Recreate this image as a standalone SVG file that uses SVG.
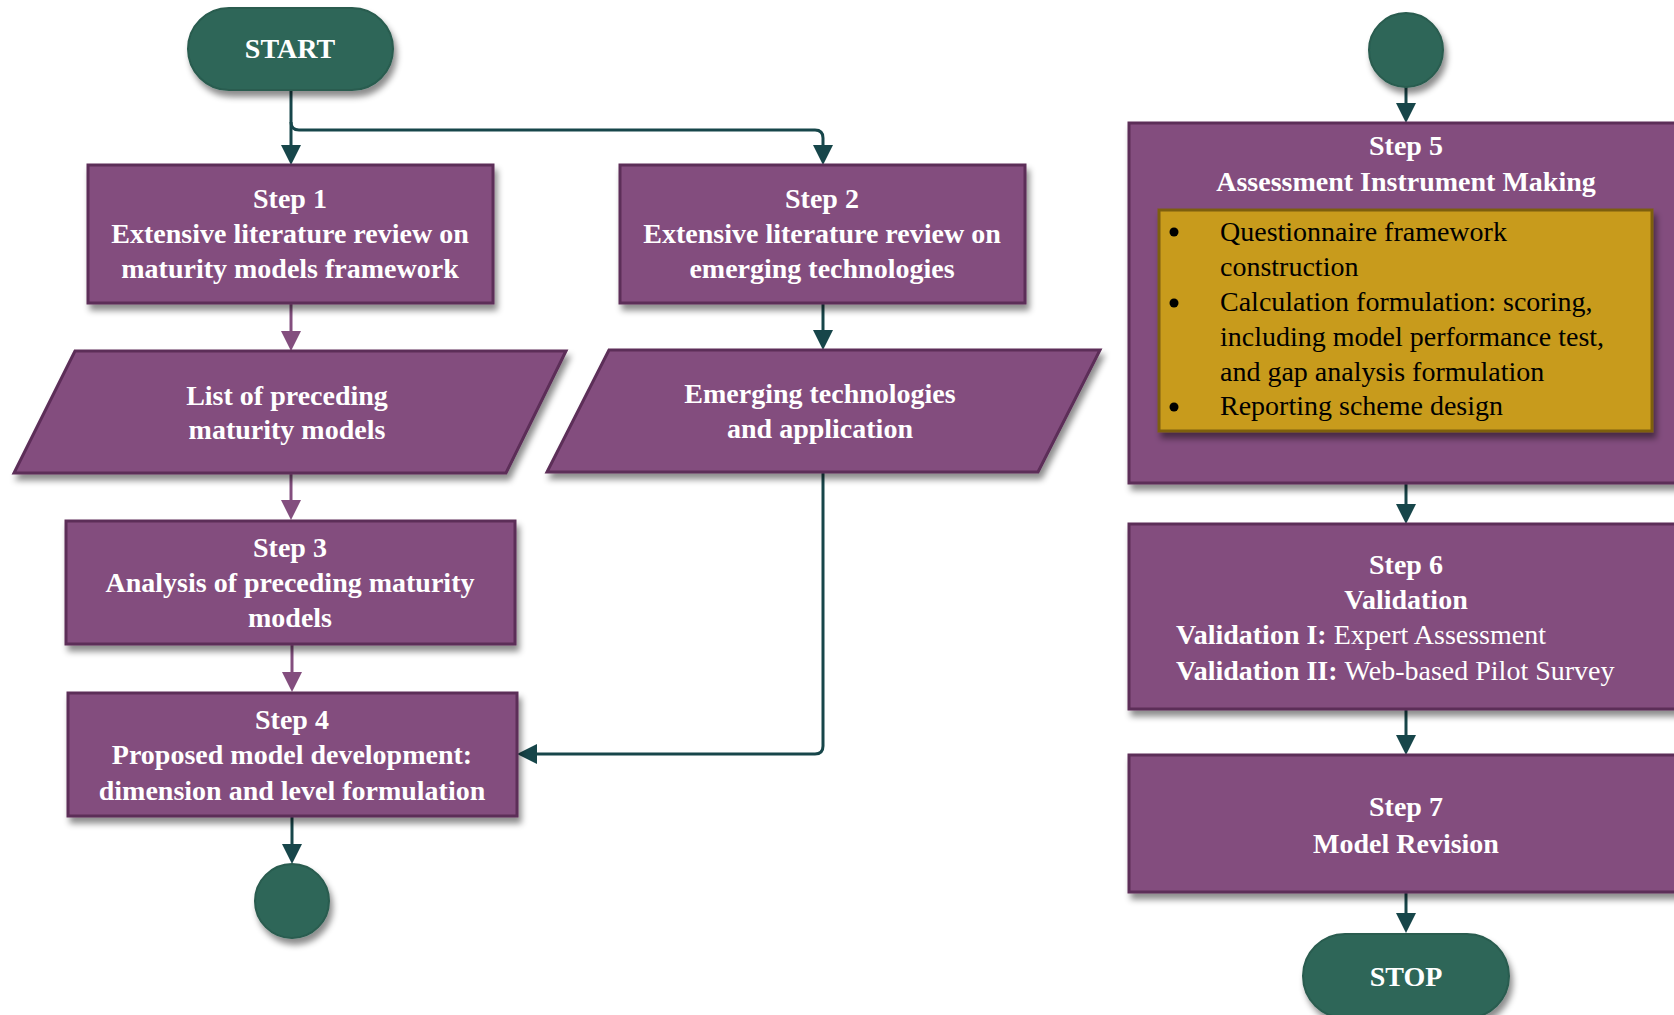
<svg xmlns="http://www.w3.org/2000/svg" width="1674" height="1015" viewBox="0 0 1674 1015">
<style>
.t{font-family:"Liberation Serif","Times New Roman",serif;font-size:28px;fill:#fff;text-anchor:middle;font-weight:bold}
.r{font-weight:normal}
.k{font-family:"Liberation Serif","Times New Roman",serif;font-size:28px;fill:#000;font-weight:normal}
.p{fill:#834e7e;stroke:#5c2d58;stroke-width:3}
.g{fill:#2e6658;stroke:#295c4f;stroke-width:2}
.y{fill:#c89b1a;stroke:#7d5e10;stroke-width:3}
.ct{fill:none;stroke:#17464a;stroke-width:3}
.cp{fill:none;stroke:#834e7e;stroke-width:3}
</style>
<defs>
<filter id="sh" x="-10%" y="-10%" width="130%" height="140%">
<feDropShadow dx="3" dy="6" stdDeviation="3" flood-color="#000" flood-opacity="0.45"/>
</filter>
<marker id="at" viewBox="0 0 20 20" refX="16" refY="10" markerWidth="20" markerHeight="20" markerUnits="userSpaceOnUse" orient="auto">
<path d="M0,0 L20,10 L0,20 z" fill="#17464a"/>
</marker>
<marker id="ap" viewBox="0 0 20 20" refX="16" refY="10" markerWidth="20" markerHeight="20" markerUnits="userSpaceOnUse" orient="auto">
<path d="M0,0 L20,10 L0,20 z" fill="#834e7e"/>
</marker>
</defs>

<g id="connectors">
<path class="ct" d="M291,90 V161" marker-end="url(#at)"/>
<path class="ct" d="M291,122 Q291,130 299,130 H815 Q823,130 823,138 V161" marker-end="url(#at)"/>
<path class="cp" d="M291,303 V347" marker-end="url(#ap)"/>
<path class="ct" d="M823,303 V346" marker-end="url(#at)"/>
<path class="cp" d="M291,473 V516" marker-end="url(#ap)"/>
<path class="cp" d="M292,644 V688" marker-end="url(#ap)"/>
<path class="ct" d="M823,472 V746 Q823,754 815,754 H521" marker-end="url(#at)"/>
<path class="ct" d="M292,816 V860" marker-end="url(#at)"/>
<path class="ct" d="M1406,87 V119" marker-end="url(#at)"/>
<path class="ct" d="M1406,483 V520" marker-end="url(#at)"/>
<path class="ct" d="M1406,709 V751" marker-end="url(#at)"/>
<path class="ct" d="M1406,892 V929" marker-end="url(#at)"/>
</g>

<g id="start">
<rect class="g" x="188" y="8" width="205" height="82" rx="41" filter="url(#sh)"/>
<text class="t" x="290" y="58">START</text>
</g>

<g id="step1">
<rect class="p" x="88" y="165" width="405" height="138" filter="url(#sh)"/>
<text class="t" x="290" y="208">Step 1</text>
<text class="t" x="290" y="243">Extensive literature review on</text>
<text class="t" x="290" y="278">maturity models framework</text>
</g>

<g id="step2">
<rect class="p" x="620" y="165" width="405" height="138" filter="url(#sh)"/>
<text class="t" x="822" y="208">Step 2</text>
<text class="t" x="822" y="243">Extensive literature review on</text>
<text class="t" x="822" y="278">emerging technologies</text>
</g>

<g id="list-models">
<polygon class="p" points="75,351 566,351 506,473 14,473" filter="url(#sh)"/>
<text class="t" x="287" y="405">List of preceding</text>
<text class="t" x="287" y="439">maturity models</text>
</g>

<g id="emerging">
<polygon class="p" points="609,350 1100,350 1038,472 547,472" filter="url(#sh)"/>
<text class="t" x="820" y="403">Emerging technologies</text>
<text class="t" x="820" y="438">and application</text>
</g>

<g id="step3">
<rect class="p" x="66" y="521" width="449" height="123" filter="url(#sh)"/>
<text class="t" x="290" y="557">Step 3</text>
<text class="t" x="290" y="592">Analysis of preceding maturity</text>
<text class="t" x="290" y="627">models</text>
</g>

<g id="step4">
<rect class="p" x="68" y="693" width="449" height="123" filter="url(#sh)"/>
<text class="t" x="292" y="729">Step 4</text>
<text class="t" x="292" y="764">Proposed model development:</text>
<text class="t" x="292" y="800">dimension and level formulation</text>
</g>

<g id="connector-out">
<circle class="g" cx="292" cy="901" r="37" filter="url(#sh)"/>
</g>

<g id="connector-in">
<circle class="g" cx="1406" cy="50" r="37" filter="url(#sh)"/>
</g>

<g id="step5">
<rect class="p" x="1129" y="123" width="560" height="360" filter="url(#sh)"/>
<text class="t" x="1406" y="155">Step 5</text>
<text class="t" x="1406" y="191">Assessment Instrument Making</text>
<rect class="y" x="1159" y="210" width="493" height="221" filter="url(#sh)"/>
<g class="k">
<circle cx="1174" cy="232" r="4.5" fill="#000"/>
<circle cx="1174" cy="303" r="4.5" fill="#000"/>
<circle cx="1174" cy="407" r="4.5" fill="#000"/>
<text x="1220" y="241">Questionnaire framework</text>
<text x="1220" y="276">construction</text>
<text x="1220" y="311">Calculation formulation: scoring,</text>
<text x="1220" y="346">including model performance test,</text>
<text x="1220" y="381">and gap analysis  formulation</text>
<text x="1220" y="415">Reporting scheme design</text>
</g>
</g>

<g id="step6">
<rect class="p" x="1129" y="524" width="560" height="185" filter="url(#sh)"/>
<text class="t" x="1406" y="574">Step 6</text>
<text class="t" x="1406" y="609">Validation</text>
<text class="t" x="1176" y="644" style="text-anchor:start">Validation I: <tspan class="r">Expert Assessment</tspan></text>
<text class="t" x="1176" y="680" style="text-anchor:start">Validation II: <tspan class="r">Web-based Pilot Survey</tspan></text>
</g>

<g id="step7">
<rect class="p" x="1129" y="755" width="560" height="137" filter="url(#sh)"/>
<text class="t" x="1406" y="816">Step 7</text>
<text class="t" x="1406" y="853">Model Revision</text>
</g>

<g id="stop">
<rect class="g" x="1303" y="934" width="206" height="84" rx="42" filter="url(#sh)"/>
<text class="t" x="1406" y="986">STOP</text>
</g>
</svg>
